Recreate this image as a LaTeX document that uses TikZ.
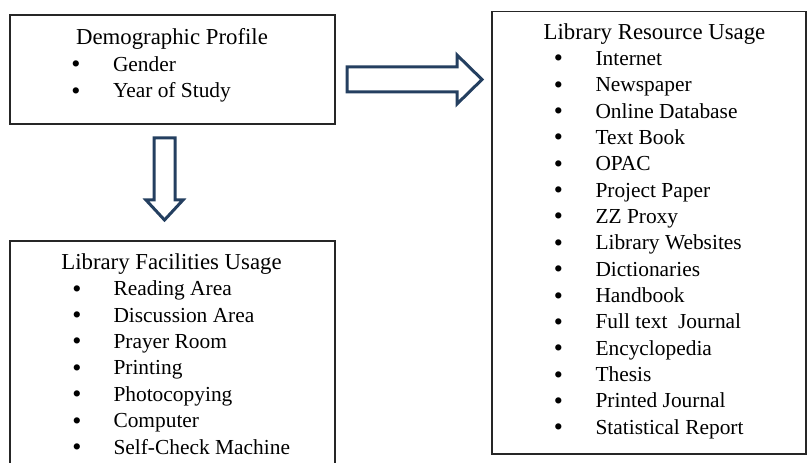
\documentclass[tikz,border=0pt]{standalone}
\usepackage{fontspec}
\setmainfont{Liberation Serif}
\definecolor{arrowblue}{HTML}{243F60}
\definecolor{framegray}{HTML}{262626}
\begin{document}
\begin{tikzpicture}[x=1bp,y=-1bp,
  every node/.style={inner sep=0pt, outer sep=0pt},
  item/.style={anchor=base west, font=\fontsize{21.4bp}{26bp}\selectfont},
  bul/.style={anchor=base, font=\fontsize{26bp}{26bp}\selectfont},
  head/.style={anchor=base, font=\fontsize{22.8bp}{26.4bp}\selectfont},
  frame/.style={draw=framegray, line width=1.3bp, anchor=north west},
  blockarrow/.style={draw=arrowblue, line width=3bp, fill=white, line join=miter}]
\useasboundingbox (0,0) rectangle (807,463);
\clip (0,0) rectangle (807,463);
% boxes
\node[frame, minimum width=325bp, minimum height=109bp] (demo) at (10,15) {};
\node[frame, minimum width=314bp, minimum height=442.5bp] (res) at (492,11.5) {};
\node[frame, minimum width=325bp, minimum height=240bp] (fac) at (10,241) {};
% Demographic profile
\node[head] (demoh) at (172,45) {Demographic Profile};
\foreach \t [count=\i from 0] in {Gender, Year of Study}{
  \node[bul] (demob\i) at (76,73+26.4*\i) {\textbullet};
  \node[item] (demot\i) at (113,71.5+26.4*\i) {\t};
}
% Library Facilities Usage
\node[head] (fach) at (171.5,269.3) {Library Facilities Usage};
\foreach \t [count=\i from 0] in {Reading Area, Discussion Area, Prayer Room, Printing, Photocopying, Computer, Self-Check Machine}{
  \node[bul] (facb\i) at (77,297.2+26.4*\i) {\textbullet};
  \node[item] (fact\i) at (113.5,295.7+26.4*\i) {\t};
}
% Library Resource Usage
\node[head] (resh) at (654.5,39.2) {Library Resource Usage};
\foreach \t [count=\i from 0] in {Internet, Newspaper, Online Database, Text Book, OPAC, Project Paper, ZZ Proxy, Library Websites, Dictionaries, Handbook, Full text~~Journal, Encyclopedia, Thesis, Printed Journal, Statistical Report}{
  \node[bul] (resb\i) at (558.5,66.8+26.36*\i) {\textbullet};
  \node[item] (rest\i) at (595.5,65.3+26.36*\i) {\t};
}
% block arrows
\draw[blockarrow] (347,67) -- (457,67) -- (457,55) -- (482,79.5) -- (457,104) -- (457,92) -- (347,92) -- cycle;
\draw[blockarrow] (154,138) -- (175,138) -- (175,200) -- (183,200) -- (164.5,220) -- (146,200) -- (154,200) -- cycle;
\end{tikzpicture}
\end{document}
